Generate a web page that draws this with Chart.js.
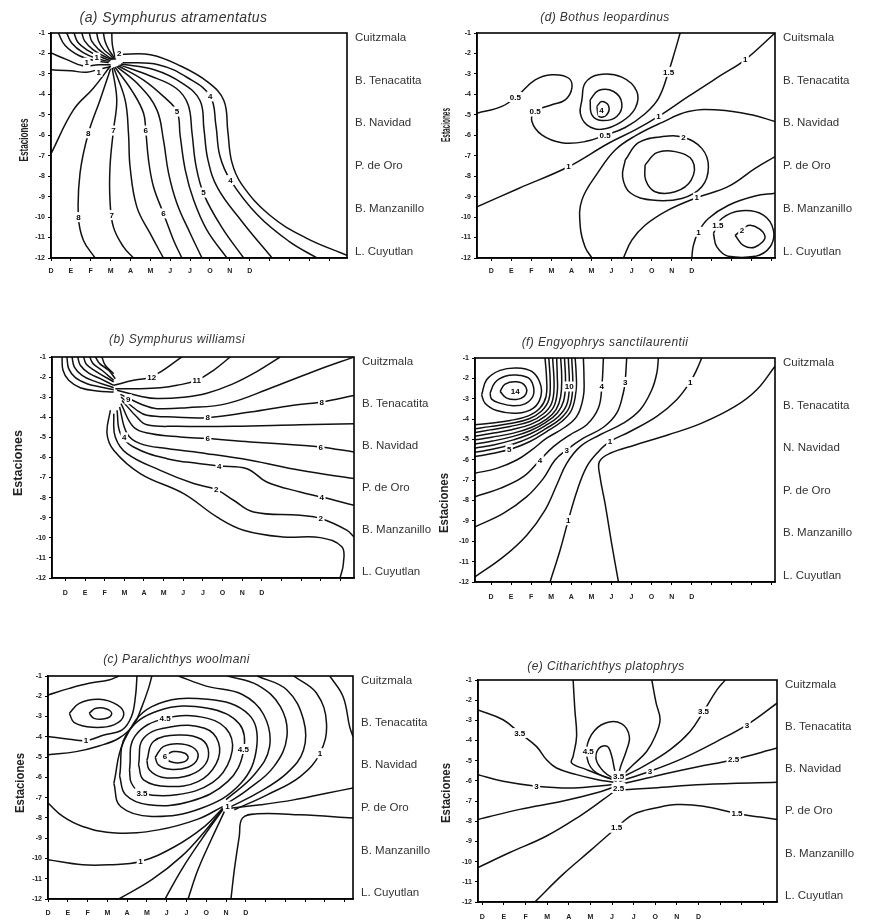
<!DOCTYPE html>
<html>
<head>
<meta charset="utf-8">
<title>Estaciones por mes - lenguados</title>
<script src="https://cdn.jsdelivr.net/npm/chart.js@4.4.1/dist/chart.umd.min.js"></script>
<style>
  html, body { margin: 0; padding: 0; background: #fff; }
  #sheet { position: relative; width: 875px; height: 924px; overflow: hidden; background: #fff; }
  #sheet canvas { position: absolute; }
</style>
</head>
<body>
<div id="sheet"></div>
<script>
// month ticks along the bottom axis (Dec .. Dec)
const months = ['D', 'E', 'F', 'M', 'A', 'M', 'J', 'J', 'O', 'N', 'D'];
const depthTicks = [-1, -2, -3, -4, -5, -6, -7, -8, -9, -10, -11, -12];
const yTitle = 'Estaciones';

// station names on the right side, and where they sit on the station axis
const stationPos = [-1.25, -3.33, -5.4, -7.5, -9.6, -11.7];
const stationsA = ['Cuitzmala', 'B. Tenacatita', 'B. Navidad', 'P. de Oro', 'B. Manzanillo', 'L. Cuyutlan'];
const stationsD = ['Cuitsmala', 'B. Tenacatita', 'B. Navidad', 'P. de Oro', 'B. Manzanillo', 'L. Cuyutlan'];
const stationsF = ['Cuitzmala', 'B. Tenacatita', 'N. Navidad', 'P. de Oro', 'B. Manzanillo', 'L. Cuyutlan'];

// contour lines, [month, station] pairs
const linesA = [
  [[3.0,-2.6],[2.13,-3.7],[1.13,-4.76],[0,-6.9]],
  [[3.0,-2.75],[2.47,-4.27],[1.88,-5.9],[1.46,-7.86],[1.38,-9.99],[1.63,-11.13],[2.22,-12]],
  [[3.08,-2.7],[3.31,-4.27],[3.14,-5.77],[2.97,-7.54],[2.97,-9.17],[3.14,-10.48],[3.65,-11.46],[4.15,-12]],
  [[3.15,-2.68],[3.73,-4.27],[3.9,-5.9],[3.98,-7.54],[4.32,-9.5],[4.99,-10.8],[5.66,-12]],
  [[3.22,-2.66],[4.15,-3.94],[4.66,-4.92],[4.77,-5.77],[4.91,-7.21],[5.16,-8.52],[5.66,-9.82],[6.17,-11.13],[6.59,-12]],
  [[3.3,-2.63],[4.49,-3.61],[5.33,-4.76],[5.66,-6.23],[5.92,-7.86],[6.34,-9.33],[7.01,-10.8],[7.6,-12]],
  [[3.38,-2.6],[4.66,-3.3],[5.66,-4.1],[6.34,-4.84],[6.5,-6.0],[6.76,-7.7],[7.18,-9.17],[7.85,-10.64],[8.86,-12]],
  [[3.45,-2.56],[5.0,-3.1],[6.3,-3.7],[6.9,-4.5],[7.1,-5.9],[7.3,-7.5],[7.7,-8.9],[8.6,-10.5],[9.7,-12]],
  [[3.52,-2.52],[5.2,-2.8],[6.6,-3.45],[7.5,-4.3],[7.7,-5.7],[7.9,-7.2],[8.4,-8.6],[9.6,-10.2],[11.13,-12]],
  [[3.6,-2.45],[5.4,-2.55],[6.9,-3.2],[8.02,-4.1],[8.3,-5.5],[8.5,-7.0],[9.03,-8.19],[10.4,-9.9],[12.0,-11.2],[13.39,-12]],
  [[3.43,-2.05],[5.0,-2.06],[6.5,-2.6],[7.9,-3.4],[8.7,-4.3],[8.9,-5.8],[9.1,-7.3],[9.6,-8.4],[11.0,-9.9],[12.8,-11.0],[14.9,-11.87]],
  [[0.37,-1],[0.7,-1.6],[1.4,-2.1],[2.2,-2.35],[2.9,-2.45]],
  [[0.79,-1],[1.05,-1.5],[1.6,-1.95],[2.3,-2.25],[2.95,-2.4]],
  [[1.16,-1],[1.35,-1.45],[1.85,-1.85],[2.45,-2.15],[3.0,-2.35]],
  [[1.55,-1],[1.7,-1.4],[2.1,-1.8],[2.6,-2.1],[3.05,-2.3]],
  [[1.93,-1],[2.05,-1.4],[2.4,-1.8],[2.8,-2.1],[3.1,-2.3]],
  [[2.3,-1],[2.4,-1.4],[2.65,-1.8],[3.0,-2.1],[3.15,-2.3]],
  [[2.64,-1],[2.72,-1.4],[2.9,-1.8],[3.1,-2.1],[3.2,-2.3]],
  [[3.06,-1],[3.08,-1.5],[3.15,-1.9],[3.25,-2.3]],
  [[0,-1.98],[0.8,-2.3],[1.6,-2.6],[2.4,-2.55],[3.0,-2.55]],
  [[0,-2.8],[1.0,-2.85],[1.8,-2.92],[2.5,-2.75],[3.0,-2.65]]
];
const tagsA = [[3.43,-2.0,'2'],[1.88,-5.9,'8'],[3.14,-5.77,'7'],[4.77,-5.77,'6'],[6.34,-4.84,'5'],[8.02,-4.1,'4'],
  [9.03,-8.19,'4'],[7.67,-8.8,'5'],[5.66,-9.82,'6'],[3.06,-9.9,'7'],[1.38,-10.0,'8'],[1.8,-2.45,'1'],[2.4,-2.9,'1'],[2.3,-2.2,'1']];

const linesB = [
  [[-0.17,-1],[-0.12,-1.66],[0.17,-2.16],[0.76,-2.53],[1.61,-2.69],[2.46,-2.74]],
  [[0.08,-1],[0.17,-1.58],[0.51,-2.03],[1.1,-2.33],[1.78,-2.49],[2.46,-2.63]],
  [[0.34,-1],[0.46,-1.5],[0.85,-1.91],[1.44,-2.19],[2.46,-2.53]],
  [[0.63,-1],[0.76,-1.41],[1.19,-1.8],[1.78,-2.08],[2.46,-2.41]],
  [[0.93,-1],[1.07,-1.36],[1.53,-1.7],[2.46,-2.24]],
  [[1.24,-1],[1.41,-1.33],[1.86,-1.66],[2.46,-2.16]],
  [[1.53,-1],[1.75,-1.33],[2.2,-1.66],[2.54,-2.08]],
  [[1.86,-1],[2.03,-1.41],[2.46,-1.83]],
  [[2.46,-2.41],[3.47,-2.16],[4.24,-2.03],[4.83,-1.75],[5.68,-1.17],[5.93,-1]],
  [[2.54,-2.58],[3.81,-2.58],[4.83,-2.53],[5.68,-2.41],[6.69,-2.16],[7.54,-1.66],[8.39,-1]],
  [[2.63,-2.66],[3.81,-2.95],[4.66,-3.07],[6.02,-3.0],[7.2,-2.8],[8.5,-2.35],[9.7,-1.75],[10.93,-1]],
  [[2.8,-2.86],[3.98,-3.4],[4.66,-3.57],[6.19,-3.52],[8.22,-3.32],[10.59,-2.49],[12.8,-1.66],[14.69,-1]],
  [[2.83,-2.99],[3.64,-3.65],[4.15,-3.9],[5.51,-3.99],[7.24,-4.02],[9.41,-3.74],[11.61,-3.4],[13.05,-3.24],[14.69,-2.91]],
  [[2.88,-3.16],[3.64,-3.99],[4.15,-4.37],[5.68,-4.45],[8.56,-4.45],[11.95,-4.37],[14.69,-4.32]],
  [[2.83,-3.32],[3.47,-4.48],[4.32,-4.81],[5.85,-4.98],[7.24,-5.06],[9.41,-5.23],[11.95,-5.39],[13.0,-5.48],[14.69,-5.73]],
  [[2.76,-3.49],[3.14,-4.81],[3.81,-5.31],[5.17,-5.56],[7.2,-5.81],[9.41,-6.14],[11.95,-6.64],[14.69,-7.05]],
  [[2.63,-3.65],[2.8,-4.81],[3.47,-5.48],[5.17,-6.06],[6.86,-6.31],[7.83,-6.42],[9.24,-6.56],[10.25,-7.22],[11.95,-7.72],[13.05,-7.97],[14.69,-8.38]],
  [[2.46,-3.82],[2.54,-4.98],[3.14,-5.81],[4.83,-6.64],[6.53,-7.3],[7.68,-7.6],[8.56,-8.13],[9.58,-8.71],[11.95,-8.88],[13.0,-9.04],[14.32,-9.62],[14.69,-9.96]],
  [[2.29,-3.65],[2.12,-4.81],[2.46,-5.64],[3.81,-6.8],[6.02,-7.8],[7.71,-8.96],[9.07,-9.62],[11.1,-9.96],[12.97,-9.99],[14.07,-10.45],[14.15,-11.28],[13.98,-12]]
];
const tagsB = [[4.4,-2.03,'12'],[6.69,-2.16,'11'],[7.24,-4.02,'8'],[13.05,-3.24,'8'],[7.24,-5.06,'6'],[13.0,-5.48,'6'],
  [7.83,-6.42,'4'],[13.05,-7.97,'4'],[7.68,-7.6,'2'],[13.0,-9.04,'2'],[3.2,-3.1,'9'],[3.0,-5.0,'4']];

const linesC = [
  [[5.92,-4.94],[6.33,-4.73],[6.92,-4.81],[7.08,-5.06],[6.75,-5.27],[6.17,-5.22],[5.92,-4.94]],
  [[5.42,-5.01],[5.83,-4.48],[6.75,-4.35],[7.45,-4.61],[7.55,-5.11],[7.08,-5.5],[6.17,-5.6],[5.58,-5.38],[5.42,-5.01]],
  [[5.0,-5.17],[5.33,-4.23],[6.58,-3.91],[7.75,-4.12],[8.12,-4.78],[7.83,-5.5],[6.92,-5.96],[5.75,-5.99],[5.12,-5.63],[5.0,-5.17]],
  [[4.58,-5.38],[4.83,-4.07],[6.25,-3.5],[7.92,-3.58],[8.62,-4.28],[8.5,-5.33],[7.58,-6.21],[6.08,-6.45],[4.83,-6.12],[4.58,-5.38]],
  [[4.12,-5.63],[4.38,-3.99],[5.92,-3.09],[8.08,-3.09],[9.17,-3.82],[9.22,-5.06],[8.33,-6.25],[6.5,-6.86],[4.75,-6.78],[4.22,-6.29],[4.12,-5.63]],
  [[3.62,-5.93],[3.95,-3.91],[5.58,-2.71],[8.08,-2.59],[9.67,-3.36],[9.88,-4.73],[9.08,-6.21],[7.17,-7.19],[5.08,-7.35],[3.92,-6.86],[3.62,-5.93]],
  [[3.33,-6.29],[3.83,-4.23],[5.25,-2.51],[8.08,-2.15],[10.17,-2.92],[10.55,-4.51],[9.75,-6.29],[7.75,-7.52],[5.25,-7.93],[3.67,-7.44],[3.33,-6.29]],
  [[6.6,-1],[8.0,-1.5],[9.8,-1.9],[10.9,-2.9],[11.2,-4.5],[10.4,-5.9],[9.0,-7.1]],
  [[9.08,-1],[10.58,-1.44],[11.75,-2.51],[12.08,-3.99],[11.42,-5.47],[10.08,-6.62],[9.08,-7.27]],
  [[10.58,-1],[12.08,-1.69],[12.92,-3.17],[12.92,-4.65],[12.08,-5.79],[10.58,-6.78],[9.25,-7.44]],
  [[12.42,-1],[13.58,-1.85],[14.08,-3.33],[13.75,-4.81],[12.75,-5.96],[11.08,-6.86],[9.42,-7.6]],
  [[14.25,-1],[14.92,-2.02],[15.25,-3.5],[15.42,-3.99]],
  [[9.17,-7.52],[10.75,-7.35],[12.42,-7.11],[14.08,-6.78],[15.42,-6.53]],
  [[9.25,-12],[9.42,-10.56],[9.67,-8.91],[9.83,-8.01],[10.58,-7.8],[12.75,-7.85],[15.42,-8.01]],
  [[7.08,-12],[7.58,-10.56],[8.25,-9.08],[8.92,-7.68]],
  [[5.92,-12],[6.75,-10.56],[7.75,-9.08],[8.83,-7.6]],
  [[3.58,-12],[5.25,-11.05],[6.75,-9.9],[7.92,-8.67],[8.83,-7.55]],
  [[0,-10.06],[1.75,-10.31],[3.08,-10.31],[4.67,-10.15],[6.42,-9.41],[7.92,-8.42],[8.83,-7.52]],
  [[0,-7.27],[0.75,-7.93],[1.75,-8.42],[3.42,-8.75],[5.58,-8.59],[7.58,-8.06],[8.83,-7.44]],
  [[0,-4.89],[1.42,-4.73],[2.58,-4.45],[3.58,-4.07],[4.33,-3.41],[4.75,-2.51],[5.08,-1.61],[5.25,-1]],
  [[0,-3.99],[1.08,-4.12],[1.92,-4.19],[2.83,-3.91],[3.75,-3.66],[4.22,-3.0],[4.42,-2.02],[4.5,-1]],
  [[0,-1.94],[1.08,-1.61],[2.08,-1.36],[3.08,-1.2],[3.58,-1]],
  [[1.08,-2.84],[1.58,-2.35],[2.58,-2.15],[3.5,-2.43],[3.83,-2.92],[3.33,-3.41],[2.25,-3.53],[1.33,-3.3],[1.08,-2.84]],
  [[2.08,-2.84],[2.42,-2.59],[3.0,-2.64],[3.22,-2.87],[2.92,-3.1],[2.33,-3.09],[2.08,-2.84]]
];
const tagsC = [[5.92,-3.09,'4.5'],[9.88,-4.6,'4.5'],[4.75,-6.78,'3.5'],[5.92,-4.94,'6'],[9.08,-7.44,'1'],
  [1.92,-4.19,'1'],[4.67,-10.15,'1'],[13.75,-4.81,'1']];

const linesD = [
  [[-0.71,-4.92],[0.53,-4.59],[1.36,-4.02],[2.19,-3.29],[3.02,-3.04],[3.85,-3.2],[4.02,-3.7],[3.69,-4.27],[3.02,-4.51],[2.19,-4.84],[2.03,-5.33],[2.52,-5.98],[3.52,-6.36],[4.68,-6.31],[5.68,-6.0],[6.68,-5.62],[7.67,-4.95],[8.34,-4.2],[8.84,-2.9],[9.17,-1.85],[9.42,-1]],
  [[4.52,-4.27],[4.68,-3.45],[5.35,-3.04],[6.51,-3.16],[7.26,-3.86],[7.18,-4.68],[6.51,-5.33],[5.51,-5.71],[4.77,-5.49],[4.44,-4.92],[4.52,-4.27]],
  [[4.93,-4.27],[5.35,-3.81],[6.1,-3.86],[6.51,-4.43],[6.26,-5.08],[5.51,-5.28],[5.02,-5.0],[4.93,-4.27]],
  [[5.27,-4.59],[5.51,-4.35],[5.85,-4.56],[5.76,-5.0],[5.38,-5.08],[5.27,-4.59]],
  [[-0.71,-9.5],[1.36,-8.6],[3.85,-7.54],[5.85,-6.39],[7.18,-5.74],[8.34,-5.08],[9.83,-4.1],[11.5,-3.04],[12.66,-2.31],[14.15,-1]],
  [[14.15,-5.33],[12.99,-5.0],[11.33,-4.76],[9.83,-4.84],[8.5,-5.38],[7.18,-6.03],[6.18,-6.72],[5.35,-7.78],[4.52,-9.17],[4.44,-10.48],[4.68,-11.46],[5.02,-12]],
  [[6.68,-7.21],[7.34,-6.36],[8.5,-6.07],[9.58,-6.1],[10.5,-6.64],[10.83,-7.54],[10.5,-8.52],[9.5,-9.09],[8.01,-9.17],[6.93,-8.81],[6.55,-8.03],[6.68,-7.21]],
  [[7.67,-7.45],[8.26,-6.85],[9.17,-6.8],[10.03,-7.24],[9.97,-8.19],[9.17,-8.76],[8.17,-8.76],[7.7,-8.19],[7.67,-7.45]],
  [[14.15,-7.05],[13.16,-7.62],[11.83,-8.5],[10.25,-9.05],[8.84,-9.65],[7.67,-10.4],[7.01,-11.13],[6.59,-12]],
  [[14.15,-8.84],[13.16,-8.97],[11.83,-9.42],[10.83,-10.07],[10.33,-10.72],[10.08,-11.38],[10.0,-12]],
  [[11.08,-10.8],[11.5,-10.07],[12.49,-9.69],[13.57,-9.9],[14.07,-10.64],[13.9,-11.46],[13.16,-11.92],[11.83,-11.92],[11.25,-11.46],[11.08,-10.8]],
  [[12.16,-10.89],[12.91,-10.4],[13.65,-10.93],[13.16,-11.46],[12.57,-11.38],[12.16,-10.89]]
];
const tagsD = [[1.2,-4.13,'0.5'],[2.19,-4.84,'0.5'],[5.5,-4.8,'4'],[5.68,-6.0,'0.5'],[8.84,-2.9,'1.5'],[12.66,-2.31,'1'],
  [8.34,-5.08,'1'],[3.85,-7.54,'1'],[9.58,-6.1,'2'],[10.25,-9.05,'1'],[10.33,-10.72,'1'],[11.3,-10.42,'1.5'],[12.5,-10.67,'2']];

const linesE = [
  [[-0.2,-2.48],[0.96,-2.97],[1.73,-3.63],[2.5,-4.29],[2.97,-4.95],[3.43,-5.36],[4.36,-5.69],[5.29,-5.93],[6.06,-6.07]],
  [[-0.2,-5.69],[0.96,-6.02],[2.5,-6.26],[4.05,-6.35],[5.29,-6.26],[6.06,-6.18]],
  [[-0.2,-7.91],[1.73,-7.41],[3.74,-7.0],[5.29,-6.59],[6.09,-6.3]],
  [[-0.2,-10.29],[1.27,-9.55],[2.97,-8.73],[4.51,-7.74],[5.6,-6.92],[6.21,-6.43]],
  [[2.43,-12],[3.74,-10.62],[4.98,-9.47],[6.21,-8.32],[6.99,-7.66],[8.07,-7.33],[9.0,-7.17],[10.23,-7.25],[11.78,-7.61],[13.63,-7.91]],
  [[6.29,-6.46],[7.91,-6.35],[10.23,-6.18],[13.63,-6.07]],
  [[6.37,-6.18],[8.07,-5.74],[9.92,-5.31],[11.62,-4.95],[13.63,-4.37]],
  [[6.34,-6.02],[7.76,-5.52],[9.3,-4.87],[10.85,-4.04],[12.24,-3.22],[13.63,-2.15]],
  [[6.24,-5.93],[7.45,-5.28],[8.69,-4.45],[9.61,-3.55],[10.23,-2.56],[10.85,-1.49],[11.24,-1]],
  [[4.2,-1],[4.28,-2.48],[4.36,-3.8],[4.2,-4.78],[4.13,-5.11],[4.82,-5.44],[5.6,-5.77],[6.21,-5.97]],
  [[7.84,-1],[8.04,-2.15],[8.22,-2.97],[7.99,-3.8],[7.6,-4.54],[6.99,-5.19],[6.4,-5.8]],
  [[6.21,-6.02],[5.13,-5.47],[4.82,-4.62],[5.05,-3.71],[5.67,-3.14],[6.45,-3.17],[6.8,-3.8],[6.65,-4.54],[6.4,-5.28],[6.26,-5.9]],
  [[6.21,-5.97],[5.6,-5.52],[5.26,-4.91],[5.41,-4.37],[5.78,-4.29],[5.98,-4.75],[6.09,-5.31],[6.21,-5.9]]
];
const tagsE = [[1.73,-3.63,'3.5'],[2.5,-6.26,'3'],[6.21,-8.32,'1.5'],[11.78,-7.61,'1.5'],[11.62,-4.95,'2.5'],[12.24,-3.22,'3'],
  [10.23,-2.56,'3.5'],[7.76,-5.52,'3'],[4.9,-4.55,'4.5'],[6.3,-5.75,'3.5'],[6.3,-6.35,'2.5']];

const linesF = [
  [[2.94,-12],[3.44,-10.44],[3.85,-8.96],[4.3,-7.48],[4.77,-6.33],[5.35,-5.6],[5.93,-5.1],[6.93,-4.61],[8.26,-3.87],[9.25,-3.05],[9.92,-2.18],[10.25,-1.57],[10.5,-1]],
  [[6.35,-12],[6.01,-10.11],[5.68,-8.14],[5.43,-6.83],[5.4,-6.09],[5.93,-5.68],[7.18,-5.27],[8.84,-4.77],[10.5,-4.2],[12.16,-3.38],[13.24,-2.56],[14.15,-1.4]],
  [[-0.8,-11.75],[0.61,-10.77],[1.78,-9.7],[2.69,-8.47],[3.31,-7.15],[3.77,-6.17],[4.44,-5.35],[5.43,-4.77],[6.59,-4.2],[7.43,-3.54],[8.01,-2.56],[8.26,-1.74],[8.34,-1]],
  [[-0.8,-9.29],[0.61,-8.63],[1.78,-7.81],[2.61,-6.91],[3.19,-6.01],[3.77,-5.51],[4.6,-4.94],[5.6,-4.4],[6.26,-3.71],[6.59,-2.72],[6.68,-2.18],[6.76,-1]],
  [[-0.8,-7.81],[0.45,-7.4],[1.61,-6.83],[2.44,-6.01],[3.11,-5.35],[3.94,-4.77],[4.77,-4.28],[5.35,-3.46],[5.52,-2.4],[5.6,-1]],
  [[-0.8,-6.66],[0.28,-6.42],[1.28,-6.01],[2.03,-5.51],[2.77,-4.94],[3.6,-4.45],[4.27,-3.87],[4.6,-2.89],[4.63,-1.9],[4.6,-1]],
  [[-0.8,-5.84],[0.12,-5.68],[1.11,-5.43],[1.94,-5.1],[2.77,-4.61],[3.52,-4.12],[4.02,-3.54],[4.24,-2.56],[4.24,-1.74],[4.19,-1]],
  [[-0.8,-5.63],[0.12,-5.47],[1.11,-5.22],[1.94,-4.91],[2.73,-4.47],[3.44,-4.0],[3.9,-3.42],[4.07,-2.48],[4.02,-1]],
  [[-0.8,-5.43],[0.12,-5.27],[1.11,-5.02],[1.94,-4.73],[2.69,-4.33],[3.36,-3.87],[3.77,-3.3],[3.9,-2.4],[3.85,-1]],
  [[-0.8,-5.22],[0.07,-5.08],[1.11,-4.85],[1.98,-4.56],[2.73,-4.16],[3.3,-3.7],[3.62,-3.1],[3.71,-2.15],[3.66,-1]],
  [[-0.8,-5.02],[0.03,-4.89],[1.11,-4.69],[2.03,-4.4],[2.77,-4.0],[3.24,-3.54],[3.47,-2.89],[3.52,-1.9],[3.47,-1]],
  [[-0.8,-4.84],[-0.01,-4.71],[1.03,-4.52],[1.98,-4.26],[2.69,-3.87],[3.13,-3.38],[3.3,-2.65],[3.3,-1.9],[3.27,-1]],
  [[-0.8,-4.66],[-0.05,-4.53],[0.95,-4.36],[1.94,-4.12],[2.61,-3.74],[3.02,-3.22],[3.14,-2.4],[3.07,-1]],
  [[-0.8,-4.47],[-0.05,-4.37],[0.95,-4.22],[1.9,-3.98],[2.52,-3.6],[2.88,-3.05],[2.95,-2.25],[2.88,-1]],
  [[-0.8,-4.28],[-0.05,-4.2],[0.95,-4.07],[1.86,-3.84],[2.44,-3.46],[2.74,-2.89],[2.77,-2.07],[2.69,-1]],
  [[-0.47,-2.81],[-0.22,-2.07],[0.45,-1.61],[1.28,-1.49],[2.03,-1.66],[2.44,-2.23],[2.48,-2.89],[2.11,-3.46],[1.28,-3.71],[0.28,-3.58],[-0.3,-3.22],[-0.47,-2.81]],
  [[-0.05,-2.72],[0.2,-2.2],[0.7,-1.9],[1.28,-1.84],[1.86,-1.98],[2.11,-2.4],[2.08,-2.89],[1.69,-3.25],[1.11,-3.35],[0.45,-3.22],[0.03,-3.02],[-0.05,-2.72]],
  [[0.45,-2.64],[0.7,-2.28],[1.28,-2.17],[1.69,-2.36],[1.74,-2.76],[1.36,-3.02],[0.78,-2.97],[0.45,-2.64]]
];
const tagsF = [[1.2,-2.64,'14'],[3.9,-2.4,'10'],[5.52,-2.4,'4'],[6.68,-2.18,'3'],[9.92,-2.18,'1'],[0.9,-5.48,'5'],
  [2.44,-6.01,'4'],[3.77,-5.51,'3'],[5.93,-5.1,'1'],[3.85,-8.96,'1']];

const FONT = '"Liberation Sans", Arial, sans-serif';
Chart.defaults.font.family = FONT;

const panels = [
  { left: 0, top: 0, w: 440, h: 300, box: { l: 51, t: 33, r: 93, b: 42 }, xMin: 0, xMax: 14.9, xPad: 6,
    title: '(a) Symphurus atramentatus', titleSize: 14, titleY: 18, yLab: { x: 25, y: 140, len: 43 },
    stations: stationsA, lines: linesA, tags: tagsA },
  { left: 435, top: 0, w: 440, h: 300, box: { l: 42, t: 33, r: 100, b: 42 }, xMin: -0.71, xMax: 14.15, xPad: 6,
    title: '(d) Bothus leopardinus', titleSize: 12, titleY: 18, yLab: { x: 12, y: 125, len: 34 },
    stations: stationsD, lines: linesD, tags: tagsD },
  { left: 0, top: 300, w: 440, h: 300, box: { l: 52, t: 57, r: 86, b: 22 }, xMin: -0.68, xMax: 14.69, xPad: 8,
    title: '(b) Symphurus williamsi', titleSize: 12, titleY: 40, yLab: { x: 19, y: 163, len: 66 },
    stations: stationsA, lines: linesB, tags: tagsB },
  { left: 435, top: 300, w: 440, h: 300, box: { l: 40, t: 58, r: 100, b: 18 }, xMin: -0.8, xMax: 14.15, xPad: 8,
    title: '(f) Engyophrys sanctilaurentii', titleSize: 12, titleY: 43, yLab: { x: 10, y: 203, len: 60 },
    stations: stationsF, lines: linesF, tags: tagsF },
  { left: 0, top: 600, w: 440, h: 324, box: { l: 48, t: 76, r: 87, b: 25 }, xMin: 0, xMax: 15.42, xPad: 7,
    title: '(c) Paralichthys woolmani', titleSize: 12, titleY: 60, yLab: { x: 21, y: 183, len: 60 },
    stations: stationsA, lines: linesC, tags: tagsC },
  { left: 435, top: 600, w: 440, h: 324, box: { l: 43, t: 80, r: 98, b: 22 }, xMin: -0.2, xMax: 13.63, xPad: 8,
    title: '(e) Citharichthys platophrys', titleSize: 12, titleY: 67, yLab: { x: 12, y: 193, len: 60 },
    stations: stationsA, lines: linesE, tags: tagsE }
];

// frame, panel title, rotated axis title and the contour value tags
function decor(p) {
  return {
    id: 'decor',
    afterDraw(chart) {
      const ctx = chart.ctx;
      const a = chart.chartArea;
      const xs = chart.scales.x, ys = chart.scales.y;
      ctx.save();

      ctx.font = 'bold 8px ' + FONT;
      ctx.textAlign = 'center';
      ctx.textBaseline = 'middle';
      p.tags.forEach(t => {
        const px = xs.getPixelForValue(t[0]);
        const py = ys.getPixelForValue(t[1]);
        const w = ctx.measureText(t[2]).width + 3;
        ctx.fillStyle = '#fff';
        ctx.fillRect(px - w / 2, py - 5, w, 10);
        ctx.fillStyle = '#000';
        ctx.fillText(t[2], px, py + 0.5);
      });

      ctx.strokeStyle = '#000';
      ctx.lineWidth = 1.6;
      ctx.strokeRect(a.left, a.top, a.right - a.left, a.bottom - a.top);

      ctx.fillStyle = '#333';
      ctx.font = 'italic ' + p.titleSize + 'px ' + FONT;
      ctx.letterSpacing = '0.4px';
      ctx.fillText(p.title, a.right / 2, p.titleY);
      ctx.letterSpacing = '0px';

      ctx.translate(p.yLab.x, p.yLab.y);
      ctx.rotate(-Math.PI / 2);
      ctx.font = 'bold 12px ' + FONT;
      const tw = ctx.measureText(yTitle).width;
      ctx.scale(p.yLab.len / tw, 1);
      ctx.fillStyle = '#222';
      ctx.fillText(yTitle, 0, 0);
      ctx.restore();
    }
  };
}

function makePanel(p) {
  const canvas = document.createElement('canvas');
  canvas.width = p.w;
  canvas.height = p.h;
  canvas.style.left = p.left + 'px';
  canvas.style.top = p.top + 'px';
  document.getElementById('sheet').appendChild(canvas);

  const datasets = p.lines.map(line => ({
    data: line.map(pt => ({ x: pt[0], y: pt[1] })),
    showLine: true,
    borderColor: '#111',
    borderWidth: 1.5,
    pointRadius: 0,
    pointHoverRadius: 0,
    tension: 0.4,
    fill: false
  }));

  return new Chart(canvas, {
    type: 'scatter',
    data: { datasets: datasets },
    options: {
      responsive: false,
      animation: false,
      devicePixelRatio: 1,
      events: [],
      layout: { padding: { top: p.box.t, left: 0, right: 0, bottom: 0 } },
      plugins: { legend: { display: false }, tooltip: { enabled: false } },
      scales: {
        x: {
          type: 'linear', position: 'bottom', min: p.xMin, max: p.xMax,
          afterFit: s => { s.height = p.box.b; },
          afterBuildTicks: s => {
            const t = [];
            for (let v = Math.ceil(s.min); v <= Math.floor(s.max); v++) t.push({ value: v });
            s.ticks = t;
          },
          ticks: {
            autoSkip: false, maxRotation: 0, padding: p.xPad, color: '#222',
            font: { size: 7, weight: 'bold' },
            callback: v => (v >= 0 && v < months.length) ? months[v] : ''
          },
          grid: { display: true, drawOnChartArea: false, drawTicks: true, tickLength: 3, color: '#000' },
          border: { display: true, color: '#000', width: 1.5 }
        },
        y: {
          type: 'linear', position: 'left', min: -12, max: -1,
          afterFit: s => { s.width = p.box.l; },
          afterBuildTicks: s => { s.ticks = depthTicks.map(v => ({ value: v })); },
          ticks: {
            autoSkip: false, padding: 3, color: '#222',
            font: { size: 7, weight: 'bold' },
            callback: v => String(v)
          },
          grid: { display: true, drawOnChartArea: false, drawTicks: true, tickLength: 3, color: '#000' },
          border: { display: true, color: '#000', width: 1.5 }
        },
        st: {
          type: 'linear', position: 'right', min: -12, max: -1,
          afterFit: s => { s.width = p.box.r; },
          afterBuildTicks: s => { s.ticks = stationPos.map(v => ({ value: v })); },
          ticks: {
            autoSkip: false, padding: 8, color: '#333',
            font: { size: 11.5 },
            callback: (v, i) => p.stations[i]
          },
          grid: { display: false, drawTicks: false },
          border: { display: false }
        }
      }
    },
    plugins: [decor(p)]
  });
}

panels.forEach(makePanel);
</script>
</body>
</html>
